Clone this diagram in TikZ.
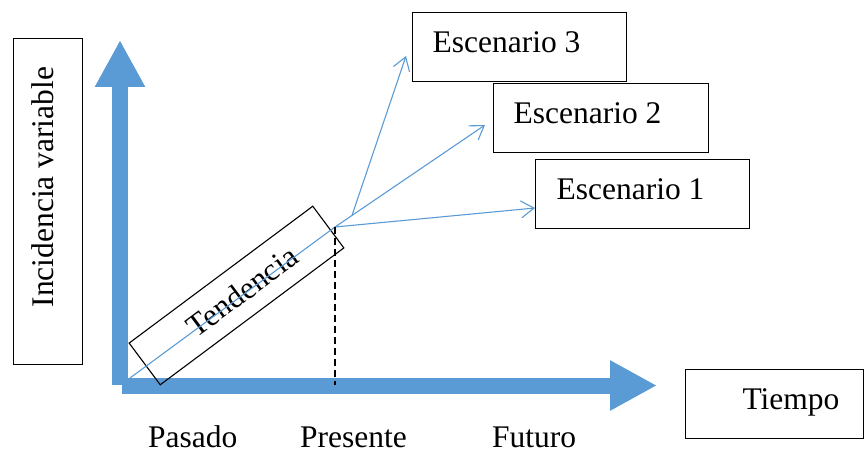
\documentclass[tikz,border=0pt]{standalone}
\usepackage{fontspec}
\setmainfont{Liberation Serif}
\usetikzlibrary{arrows.meta}
\definecolor{axisblue}{HTML}{5B9BD5}
\newcommand{\labelfont}{\fontsize{31.5}{36}\selectfont}
\begin{document}
\begin{tikzpicture}[x=1pt,y=-1pt,
  axis/.style={axisblue, line width=16pt, -{Triangle[length=47pt,width=47pt]}},
  branch/.style={axisblue, line width=1.1pt, -{Straight Barb[length=13pt,width=17pt]}},
  plain/.style={axisblue, line width=1.1pt},
  boxed/.style={draw=black, line width=1.1pt, inner sep=0pt, text height=40pt,
    text depth=29pt, anchor=north west, font=\labelfont},
  lbl/.style={inner sep=0pt, anchor=base west, font=\labelfont}]
\useasboundingbox (0,0) rectangle (866,449);

% axes
\coordinate (yfoot) at (120,385);
\coordinate (ytip) at (120,40);
\coordinate (xfoot) at (122,385.5);
\coordinate (xtip) at (657,385.5);
\draw[axis] (yfoot) -- (ytip);
\draw[axis] (xfoot) -- (xtip);

% axis captions
\node[boxed, rotate=90] (inc) at (13,365)
  {\makebox[326pt][l]{\hspace{57pt}Incidencia variable}};
\node[boxed] (tiempo) at (685,369) {\makebox[178pt][l]{\hspace{57pt}Tiempo}};

% scenario boxes
\node[boxed] (e3) at (412,12) {\makebox[214pt][l]{\hspace{20pt}Escenario 3}};
\node[boxed] (e2) at (493,83) {\makebox[215pt][l]{\hspace{20pt}Escenario 2}};
\node[boxed] (e1) at (535,159) {\makebox[214pt][l]{\hspace{21pt}Escenario 1}};

% trend box
\node[draw=black, line width=1.1pt, inner sep=0pt, minimum width=229pt,
  minimum height=52pt, rotate=36.7, font=\labelfont] (tend) at (236.5,295.5)
  {\hspace{14pt}Tendencia};

% time labels
\node[lbl] (pasado) at (148,447) {Pasado};
\node[lbl] (presente) at (300,447) {Presente};
\node[lbl] (futuro) at (492,447) {Futuro};

% trend and scenario branches
\coordinate (t0) at (130,378);
\coordinate (b1) at (335,227);
\coordinate (b2) at (352,215.4);
\coordinate (e1tip) at (535,208);
\coordinate (e2tip) at (485,125);
\coordinate (e3tip) at (406,56);
\coordinate (now) at (335,385);
\draw[plain] (t0) -- (b1);
\draw[branch] (b1) -- (e2tip);
\draw[branch] (b2) -- (e3tip);
\draw[branch] (b1) -- (e1tip);
\draw[black, line width=1.1pt, dash pattern=on 7pt off 4pt] (b1) -- (now);
\end{tikzpicture}
\end{document}
